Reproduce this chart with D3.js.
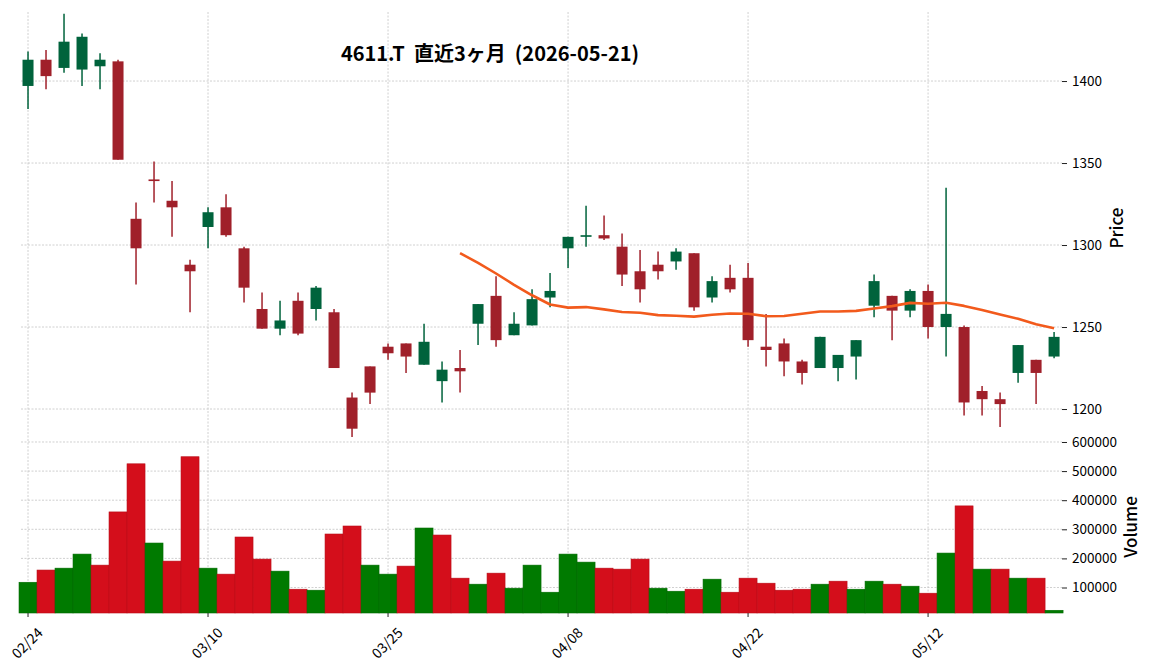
<!DOCTYPE html>
<html>
<head>
<meta charset="utf-8">
<script src="https://cdn.jsdelivr.net/npm/d3@7"></script>
<style>
  body { margin: 0; background: #fff; }
  #chart { width: 1152px; height: 670px; }
  text { font-family: "Noto Sans CJK JP", "Noto Sans", sans-serif; fill: #000; }
</style>
</head>
<body>
<div id="chart"></div>
<script>
// trading days (last 3 months)
const dates = ["02/24","02/25","02/26","02/27","03/02","03/03","03/04","03/05","03/06","03/09",
  "03/10","03/11","03/12","03/13","03/16","03/17","03/18","03/19","03/23","03/24",
  "03/25","03/26","03/27","03/30","03/31","04/01","04/02","04/03","04/06","04/07",
  "04/08","04/09","04/10","04/13","04/14","04/15","04/16","04/17","04/20","04/21",
  "04/22","04/23","04/24","04/27","04/28","04/30","05/01","05/07","05/08","05/11",
  "05/12","05/13","05/14","05/15","05/18","05/19","05/20","05/21"];

const opens  = [1397,1413,1408,1407,1409,1412,1316,1340,1327,1288, 1311,1323,1298,1261,1249,1266,1261,1259,1207,1226,
  1238,1240,1227,1217,1225,1252,1269,1245,1251,1268, 1298,1305,1306,1299,1284,1288,1290,1295,1268,1280,
  1280,1238,1240,1229,1225,1225,1232,1263,1269,1260, 1272,1250,1250,1211,1206,1222,1230,1232];
const highs  = [1418,1419,1441,1429,1417,1413,1326,1351,1339,1291, 1323,1331,1299,1271,1266,1271,1275,1261,1210,1226,
  1240,1240,1252,1229,1236,1264,1281,1259,1273,1283, 1305,1324,1318,1307,1297,1296,1298,1295,1281,1288,
  1289,1258,1243,1230,1244,1233,1242,1282,1269,1273, 1276,1335,1251,1214,1210,1239,1230,1247];
const lows   = [1383,1395,1405,1397,1395,1352,1276,1326,1305,1259, 1298,1305,1265,1249,1245,1245,1254,1225,1183,1203,
  1230,1222,1227,1204,1210,1239,1238,1245,1251,1262, 1286,1299,1303,1275,1265,1279,1285,1260,1265,1271,
  1238,1226,1220,1215,1225,1217,1218,1256,1242,1256, 1243,1232,1196,1196,1189,1216,1203,1231];
const closes = [1413,1403,1424,1427,1413,1352,1298,1339,1323,1284, 1320,1306,1274,1249,1254,1246,1274,1225,1188,1210,
  1234,1232,1241,1224,1223,1264,1242,1252,1267,1272, 1305,1306,1304,1282,1273,1284,1296,1262,1278,1273,
  1242,1236,1229,1222,1244,1233,1242,1278,1260,1272, 1250,1258,1204,1206,1203,1239,1222,1244];
const volumes = [118000,160000,166500,214800,176900,359700,525000,252800,190700,549300,
  166500,145900,273500,197600,156200,94100,90700,283800,311300,176900,
  145900,173500,304400,280300,132100,111400,149300,97600,176900,83800,
  214800,187200,166500,163100,197600,97600,87200,94100,128600,83800,
  132100,114800,90700,94100,111400,121700,94100,121700,111400,104500,
  80400,218300,380400,163100,163100,132100,132100,21700];

const xTickLabels = ["02/24","03/10","03/25","04/08","04/22","05/12"];
const priceTicks = [1200,1250,1300,1350,1400];
const volumeTicks = [100000,200000,300000,400000,500000,600000];
const maWindow = 25;

const title = "4611.T  直近3ヶ月  (2026-05-21)";

const W = 1152, H = 670;
const plot = { left: 21, right: 1062, top: 12, split: 441, bottom: 613 };

const svg = d3.select("#chart").append("svg")
  .attr("width", W).attr("height", H)
  .attr("viewBox", `0 0 ${W} ${H}`);

const idx = d3.range(dates.length);

const x = d3.scaleLinear()
  .domain([-0.39, dates.length - 1 + 0.44])
  .range([plot.left, plot.right]);
const step = x(1) - x(0);

const y = d3.scaleLinear()
  .domain([1180.5, 1442.1])
  .range([plot.split, plot.top]);

const yv = d3.scaleLinear()
  .domain([12400, 603400])
  .range([plot.bottom, plot.split]);

// grid
const grid = svg.append("g")
  .attr("stroke", "#c4c4c4")
  .attr("stroke-width", 0.8)
  .attr("stroke-dasharray", "2,1.5");
grid.selectAll(".gx").data(xTickLabels).join("line")
  .attr("x1", d => x(dates.indexOf(d))).attr("x2", d => x(dates.indexOf(d)))
  .attr("y1", plot.top).attr("y2", plot.bottom);
grid.selectAll(".gp").data(priceTicks).join("line")
  .attr("class", "gp")
  .attr("x1", plot.left).attr("x2", plot.right)
  .attr("y1", d => y(d)).attr("y2", d => y(d));
grid.selectAll(".gv").data(volumeTicks).join("line")
  .attr("class", "gv")
  .attr("x1", plot.left).attr("x2", plot.right)
  .attr("y1", d => yv(d)).attr("y2", d => yv(d));

// volume bars, colour by close vs previous close
svg.append("g").selectAll("rect")
  .data(idx)
  .join("rect")
  .attr("x", i => x(i) - step / 2)
  .attr("width", step)
  .attr("y", i => yv(volumes[i]))
  .attr("height", i => yv.range()[0] - yv(volumes[i]))
  .attr("fill", i => (i === 0 || closes[i] >= closes[i - 1]) ? "#007a00" : "#d40e1b")
  .attr("stroke", i => (i === 0 || closes[i] >= closes[i - 1]) ? "#006a00" : "#b80c17")
  .attr("stroke-width", 0.6);

// candles
const upCol = "#00633c", downCol = "#a0202a";
const candle = svg.append("g").selectAll("g")
  .data(idx)
  .join("g")
  .attr("fill", i => closes[i] >= opens[i] ? upCol : downCol)
  .attr("stroke", i => closes[i] >= opens[i] ? upCol : downCol);

candle.append("line")
  .attr("x1", i => x(i)).attr("x2", i => x(i))
  .attr("y1", i => y(highs[i])).attr("y2", i => y(lows[i]))
  .attr("stroke-width", 1.5);

candle.append("rect")
  .attr("x", i => x(i) - 5.5)
  .attr("width", 11)
  .attr("y", i => y(Math.max(opens[i], closes[i])))
  .attr("height", i => Math.max(1.2, Math.abs(y(opens[i]) - y(closes[i]))))
  .attr("stroke", "none");

// 25-day moving average
const ma = idx.map(i => i < maWindow - 1 ? null : d3.mean(closes.slice(i - maWindow + 1, i + 1)));
svg.append("path")
  .datum(idx.filter(i => ma[i] !== null))
  .attr("fill", "none")
  .attr("stroke", "#f25a1c")
  .attr("stroke-width", 2.6)
  .attr("stroke-linejoin", "round")
  .attr("d", d3.line().x(i => x(i)).y(i => y(ma[i])));

// right axes
const axP = svg.append("g")
  .attr("transform", `translate(${plot.right},0)`)
  .call(d3.axisRight(y).tickValues(priceTicks).tickSize(5).tickPadding(5).tickFormat(d3.format("d")));
const axV = svg.append("g")
  .attr("transform", `translate(${plot.right},0)`)
  .call(d3.axisRight(yv).tickValues(volumeTicks).tickSize(5).tickPadding(5).tickFormat(d3.format("d")));
[axP, axV].forEach(a => {
  a.select(".domain").remove();
  a.selectAll("line").attr("stroke", "#222").attr("stroke-width", 1);
  a.selectAll("text").style("font-size", "13.5px").attr("fill", "#111")
    .style("font-family", "'Noto Sans CJK JP', sans-serif");
});

// bottom x ticks
const xt = svg.append("g");
xt.selectAll("line").data(xTickLabels).join("line")
  .attr("x1", d => x(dates.indexOf(d))).attr("x2", d => x(dates.indexOf(d)))
  .attr("y1", plot.bottom).attr("y2", plot.bottom + 4)
  .attr("stroke", "#222");
xt.selectAll("text").data(xTickLabels).join("text")
  .attr("transform", d => `translate(${x(dates.indexOf(d))},${plot.bottom + 31}) rotate(-45)`)
  .attr("text-anchor", "middle")
  .attr("dominant-baseline", "middle")
  .style("font-size", "14px")
  .text(d => d);

// axis labels
svg.append("text")
  .attr("transform", "translate(1118,228) rotate(-90)")
  .attr("text-anchor", "middle").attr("dominant-baseline", "middle")
  .style("font-size", "17px").style("font-weight", 500)
  .text("Price");
svg.append("text")
  .attr("transform", `translate(1132,${(plot.split + plot.bottom) / 2}) rotate(-90)`)
  .attr("text-anchor", "middle").attr("dominant-baseline", "middle")
  .style("font-size", "17px").style("font-weight", 500)
  .text("Volume");

svg.append("text")
  .attr("x", 490).attr("y", 56)
  .attr("text-anchor", "middle").attr("dominant-baseline", "middle")
  .style("font-size", "20px").style("font-weight", "bold")
  .style("white-space", "pre")
  .text(title);
</script>
</body>
</html>
